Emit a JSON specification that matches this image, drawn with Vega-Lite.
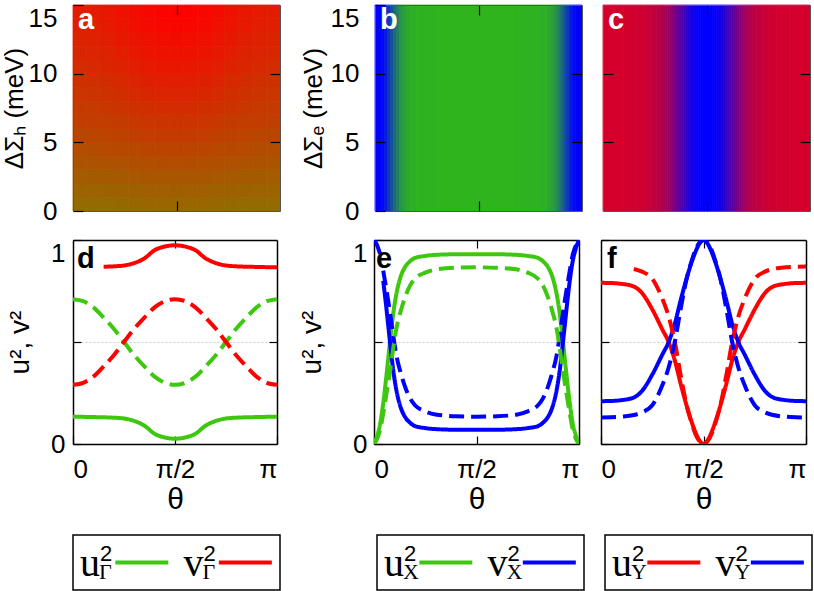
{
"$schema": "https://vega.github.io/schema/vega-lite/v6.json",
"padding": {"left": 1, "top": 4, "right": 0, "bottom": 0},
"background": "white",
"config": {
  "font": "Liberation Sans",
  "view": {"stroke": null},
  "axis": {"labelFont": "Liberation Sans", "labelFontSize": 26, "labelColor": "#000", "titleFont": "Liberation Sans", "titleFontSize": 28, "titleFontWeight": "normal", "titleColor": "#000", "tickColor": "#000", "tickWidth": 1.2, "domainColor": "#000", "domainWidth": 1.5, "grid": false},
  "title": {"font": "Liberation Sans", "fontSize": 29, "fontWeight": "bold", "anchor": "start", "frame": "group", "baseline": "alphabetic"}
},
"datasets": {
"ha": [
{"x":0,"x2":0.0667,"y":0,"y2":1,"v":0.58},{"x":0.0667,"x2":0.1333,"y":0,"y2":1,"v":0.582},{"x":0.1333,"x2":0.2,"y":0,"y2":1,"v":0.585},{"x":0.2,"x2":0.2667,"y":0,"y2":1,"v":0.589},{"x":0.2667,"x2":0.3333,"y":0,"y2":1,"v":0.593},{"x":0.3333,"x2":0.4,"y":0,"y2":1,"v":0.597},{"x":0.4,"x2":0.4667,"y":0,"y2":1,"v":0.599},{"x":0.4667,"x2":0.5333,"y":0,"y2":1,"v":0.6},{"x":0.5333,"x2":0.6,"y":0,"y2":1,"v":0.599},{"x":0.6,"x2":0.6667,"y":0,"y2":1,"v":0.597},{"x":0.6667,"x2":0.7333,"y":0,"y2":1,"v":0.593},{"x":0.7333,"x2":0.8,"y":0,"y2":1,"v":0.589},{"x":0.8,"x2":0.8667,"y":0,"y2":1,"v":0.585},{"x":0.8667,"x2":0.9333,"y":0,"y2":1,"v":0.582},{"x":0.9333,"x2":1,"y":0,"y2":1,"v":0.58},
{"x":0,"x2":0.0667,"y":1,"y2":2,"v":0.61},{"x":0.0667,"x2":0.1333,"y":1,"y2":2,"v":0.612},{"x":0.1333,"x2":0.2,"y":1,"y2":2,"v":0.615},{"x":0.2,"x2":0.2667,"y":1,"y2":2,"v":0.619},{"x":0.2667,"x2":0.3333,"y":1,"y2":2,"v":0.623},{"x":0.3333,"x2":0.4,"y":1,"y2":2,"v":0.627},{"x":0.4,"x2":0.4667,"y":1,"y2":2,"v":0.629},{"x":0.4667,"x2":0.5333,"y":1,"y2":2,"v":0.63},{"x":0.5333,"x2":0.6,"y":1,"y2":2,"v":0.629},{"x":0.6,"x2":0.6667,"y":1,"y2":2,"v":0.627},{"x":0.6667,"x2":0.7333,"y":1,"y2":2,"v":0.623},{"x":0.7333,"x2":0.8,"y":1,"y2":2,"v":0.619},{"x":0.8,"x2":0.8667,"y":1,"y2":2,"v":0.615},{"x":0.8667,"x2":0.9333,"y":1,"y2":2,"v":0.612},{"x":0.9333,"x2":1,"y":1,"y2":2,"v":0.61},
{"x":0,"x2":0.0667,"y":2,"y2":3,"v":0.64},{"x":0.0667,"x2":0.1333,"y":2,"y2":3,"v":0.642},{"x":0.1333,"x2":0.2,"y":2,"y2":3,"v":0.646},{"x":0.2,"x2":0.2667,"y":2,"y2":3,"v":0.651},{"x":0.2667,"x2":0.3333,"y":2,"y2":3,"v":0.656},{"x":0.3333,"x2":0.4,"y":2,"y2":3,"v":0.661},{"x":0.4,"x2":0.4667,"y":2,"y2":3,"v":0.664},{"x":0.4667,"x2":0.5333,"y":2,"y2":3,"v":0.665},{"x":0.5333,"x2":0.6,"y":2,"y2":3,"v":0.664},{"x":0.6,"x2":0.6667,"y":2,"y2":3,"v":0.661},{"x":0.6667,"x2":0.7333,"y":2,"y2":3,"v":0.656},{"x":0.7333,"x2":0.8,"y":2,"y2":3,"v":0.651},{"x":0.8,"x2":0.8667,"y":2,"y2":3,"v":0.646},{"x":0.8667,"x2":0.9333,"y":2,"y2":3,"v":0.642},{"x":0.9333,"x2":1,"y":2,"y2":3,"v":0.64},
{"x":0,"x2":0.0667,"y":3,"y2":4,"v":0.67},{"x":0.0667,"x2":0.1333,"y":3,"y2":4,"v":0.673},{"x":0.1333,"x2":0.2,"y":3,"y2":4,"v":0.678},{"x":0.2,"x2":0.2667,"y":3,"y2":4,"v":0.683},{"x":0.2667,"x2":0.3333,"y":3,"y2":4,"v":0.69},{"x":0.3333,"x2":0.4,"y":3,"y2":4,"v":0.695},{"x":0.4,"x2":0.4667,"y":3,"y2":4,"v":0.699},{"x":0.4667,"x2":0.5333,"y":3,"y2":4,"v":0.7},{"x":0.5333,"x2":0.6,"y":3,"y2":4,"v":0.699},{"x":0.6,"x2":0.6667,"y":3,"y2":4,"v":0.695},{"x":0.6667,"x2":0.7333,"y":3,"y2":4,"v":0.69},{"x":0.7333,"x2":0.8,"y":3,"y2":4,"v":0.683},{"x":0.8,"x2":0.8667,"y":3,"y2":4,"v":0.678},{"x":0.8667,"x2":0.9333,"y":3,"y2":4,"v":0.673},{"x":0.9333,"x2":1,"y":3,"y2":4,"v":0.67},
{"x":0,"x2":0.0667,"y":4,"y2":5,"v":0.7},{"x":0.0667,"x2":0.1333,"y":4,"y2":5,"v":0.703},{"x":0.1333,"x2":0.2,"y":4,"y2":5,"v":0.709},{"x":0.2,"x2":0.2667,"y":4,"y2":5,"v":0.716},{"x":0.2667,"x2":0.3333,"y":4,"y2":5,"v":0.723},{"x":0.3333,"x2":0.4,"y":4,"y2":5,"v":0.729},{"x":0.4,"x2":0.4667,"y":4,"y2":5,"v":0.733},{"x":0.4667,"x2":0.5333,"y":4,"y2":5,"v":0.735},{"x":0.5333,"x2":0.6,"y":4,"y2":5,"v":0.733},{"x":0.6,"x2":0.6667,"y":4,"y2":5,"v":0.729},{"x":0.6667,"x2":0.7333,"y":4,"y2":5,"v":0.723},{"x":0.7333,"x2":0.8,"y":4,"y2":5,"v":0.716},{"x":0.8,"x2":0.8667,"y":4,"y2":5,"v":0.709},{"x":0.8667,"x2":0.9333,"y":4,"y2":5,"v":0.703},{"x":0.9333,"x2":1,"y":4,"y2":5,"v":0.7},
{"x":0,"x2":0.0667,"y":5,"y2":6,"v":0.725},{"x":0.0667,"x2":0.1333,"y":5,"y2":6,"v":0.729},{"x":0.1333,"x2":0.2,"y":5,"y2":6,"v":0.736},{"x":0.2,"x2":0.2667,"y":5,"y2":6,"v":0.745},{"x":0.2667,"x2":0.3333,"y":5,"y2":6,"v":0.754},{"x":0.3333,"x2":0.4,"y":5,"y2":6,"v":0.763},{"x":0.4,"x2":0.4667,"y":5,"y2":6,"v":0.768},{"x":0.4667,"x2":0.5333,"y":5,"y2":6,"v":0.77},{"x":0.5333,"x2":0.6,"y":5,"y2":6,"v":0.768},{"x":0.6,"x2":0.6667,"y":5,"y2":6,"v":0.763},{"x":0.6667,"x2":0.7333,"y":5,"y2":6,"v":0.754},{"x":0.7333,"x2":0.8,"y":5,"y2":6,"v":0.745},{"x":0.8,"x2":0.8667,"y":5,"y2":6,"v":0.736},{"x":0.8667,"x2":0.9333,"y":5,"y2":6,"v":0.729},{"x":0.9333,"x2":1,"y":5,"y2":6,"v":0.725},
{"x":0,"x2":0.0667,"y":6,"y2":7,"v":0.751},{"x":0.0667,"x2":0.1333,"y":6,"y2":7,"v":0.755},{"x":0.1333,"x2":0.2,"y":6,"y2":7,"v":0.763},{"x":0.2,"x2":0.2667,"y":6,"y2":7,"v":0.772},{"x":0.2667,"x2":0.3333,"y":6,"y2":7,"v":0.783},{"x":0.3333,"x2":0.4,"y":6,"y2":7,"v":0.792},{"x":0.4,"x2":0.4667,"y":6,"y2":7,"v":0.798},{"x":0.4667,"x2":0.5333,"y":6,"y2":7,"v":0.8},{"x":0.5333,"x2":0.6,"y":6,"y2":7,"v":0.798},{"x":0.6,"x2":0.6667,"y":6,"y2":7,"v":0.792},{"x":0.6667,"x2":0.7333,"y":6,"y2":7,"v":0.783},{"x":0.7333,"x2":0.8,"y":6,"y2":7,"v":0.772},{"x":0.8,"x2":0.8667,"y":6,"y2":7,"v":0.763},{"x":0.8667,"x2":0.9333,"y":6,"y2":7,"v":0.755},{"x":0.9333,"x2":1,"y":6,"y2":7,"v":0.751},
{"x":0,"x2":0.0667,"y":7,"y2":8,"v":0.771},{"x":0.0667,"x2":0.1333,"y":7,"y2":8,"v":0.776},{"x":0.1333,"x2":0.2,"y":7,"y2":8,"v":0.785},{"x":0.2,"x2":0.2667,"y":7,"y2":8,"v":0.797},{"x":0.2667,"x2":0.3333,"y":7,"y2":8,"v":0.809},{"x":0.3333,"x2":0.4,"y":7,"y2":8,"v":0.82},{"x":0.4,"x2":0.4667,"y":7,"y2":8,"v":0.827},{"x":0.4667,"x2":0.5333,"y":7,"y2":8,"v":0.83},{"x":0.5333,"x2":0.6,"y":7,"y2":8,"v":0.827},{"x":0.6,"x2":0.6667,"y":7,"y2":8,"v":0.82},{"x":0.6667,"x2":0.7333,"y":7,"y2":8,"v":0.809},{"x":0.7333,"x2":0.8,"y":7,"y2":8,"v":0.797},{"x":0.8,"x2":0.8667,"y":7,"y2":8,"v":0.785},{"x":0.8667,"x2":0.9333,"y":7,"y2":8,"v":0.776},{"x":0.9333,"x2":1,"y":7,"y2":8,"v":0.771},
{"x":0,"x2":0.0667,"y":8,"y2":9,"v":0.791},{"x":0.0667,"x2":0.1333,"y":8,"y2":9,"v":0.797},{"x":0.1333,"x2":0.2,"y":8,"y2":9,"v":0.808},{"x":0.2,"x2":0.2667,"y":8,"y2":9,"v":0.821},{"x":0.2667,"x2":0.3333,"y":8,"y2":9,"v":0.836},{"x":0.3333,"x2":0.4,"y":8,"y2":9,"v":0.848},{"x":0.4,"x2":0.4667,"y":8,"y2":9,"v":0.857},{"x":0.4667,"x2":0.5333,"y":8,"y2":9,"v":0.86},{"x":0.5333,"x2":0.6,"y":8,"y2":9,"v":0.857},{"x":0.6,"x2":0.6667,"y":8,"y2":9,"v":0.848},{"x":0.6667,"x2":0.7333,"y":8,"y2":9,"v":0.836},{"x":0.7333,"x2":0.8,"y":8,"y2":9,"v":0.821},{"x":0.8,"x2":0.8667,"y":8,"y2":9,"v":0.808},{"x":0.8667,"x2":0.9333,"y":8,"y2":9,"v":0.797},{"x":0.9333,"x2":1,"y":8,"y2":9,"v":0.791},
{"x":0,"x2":0.0667,"y":9,"y2":10,"v":0.811},{"x":0.0667,"x2":0.1333,"y":9,"y2":10,"v":0.817},{"x":0.1333,"x2":0.2,"y":9,"y2":10,"v":0.829},{"x":0.2,"x2":0.2667,"y":9,"y2":10,"v":0.844},{"x":0.2667,"x2":0.3333,"y":9,"y2":10,"v":0.859},{"x":0.3333,"x2":0.4,"y":9,"y2":10,"v":0.873},{"x":0.4,"x2":0.4667,"y":9,"y2":10,"v":0.882},{"x":0.4667,"x2":0.5333,"y":9,"y2":10,"v":0.885},{"x":0.5333,"x2":0.6,"y":9,"y2":10,"v":0.882},{"x":0.6,"x2":0.6667,"y":9,"y2":10,"v":0.873},{"x":0.6667,"x2":0.7333,"y":9,"y2":10,"v":0.859},{"x":0.7333,"x2":0.8,"y":9,"y2":10,"v":0.844},{"x":0.8,"x2":0.8667,"y":9,"y2":10,"v":0.829},{"x":0.8667,"x2":0.9333,"y":9,"y2":10,"v":0.817},{"x":0.9333,"x2":1,"y":9,"y2":10,"v":0.811},
{"x":0,"x2":0.0667,"y":10,"y2":11,"v":0.831},{"x":0.0667,"x2":0.1333,"y":10,"y2":11,"v":0.838},{"x":0.1333,"x2":0.2,"y":10,"y2":11,"v":0.85},{"x":0.2,"x2":0.2667,"y":10,"y2":11,"v":0.866},{"x":0.2667,"x2":0.3333,"y":10,"y2":11,"v":0.882},{"x":0.3333,"x2":0.4,"y":10,"y2":11,"v":0.897},{"x":0.4,"x2":0.4667,"y":10,"y2":11,"v":0.907},{"x":0.4667,"x2":0.5333,"y":10,"y2":11,"v":0.91},{"x":0.5333,"x2":0.6,"y":10,"y2":11,"v":0.907},{"x":0.6,"x2":0.6667,"y":10,"y2":11,"v":0.897},{"x":0.6667,"x2":0.7333,"y":10,"y2":11,"v":0.882},{"x":0.7333,"x2":0.8,"y":10,"y2":11,"v":0.866},{"x":0.8,"x2":0.8667,"y":10,"y2":11,"v":0.85},{"x":0.8667,"x2":0.9333,"y":10,"y2":11,"v":0.838},{"x":0.9333,"x2":1,"y":10,"y2":11,"v":0.831},
{"x":0,"x2":0.0667,"y":11,"y2":12,"v":0.846},{"x":0.0667,"x2":0.1333,"y":11,"y2":12,"v":0.854},{"x":0.1333,"x2":0.2,"y":11,"y2":12,"v":0.868},{"x":0.2,"x2":0.2667,"y":11,"y2":12,"v":0.885},{"x":0.2667,"x2":0.3333,"y":11,"y2":12,"v":0.904},{"x":0.3333,"x2":0.4,"y":11,"y2":12,"v":0.92},{"x":0.4,"x2":0.4667,"y":11,"y2":12,"v":0.931},{"x":0.4667,"x2":0.5333,"y":11,"y2":12,"v":0.935},{"x":0.5333,"x2":0.6,"y":11,"y2":12,"v":0.931},{"x":0.6,"x2":0.6667,"y":11,"y2":12,"v":0.92},{"x":0.6667,"x2":0.7333,"y":11,"y2":12,"v":0.904},{"x":0.7333,"x2":0.8,"y":11,"y2":12,"v":0.885},{"x":0.8,"x2":0.8667,"y":11,"y2":12,"v":0.868},{"x":0.8667,"x2":0.9333,"y":11,"y2":12,"v":0.854},{"x":0.9333,"x2":1,"y":11,"y2":12,"v":0.846},
{"x":0,"x2":0.0667,"y":12,"y2":13,"v":0.861},{"x":0.0667,"x2":0.1333,"y":12,"y2":13,"v":0.869},{"x":0.1333,"x2":0.2,"y":12,"y2":13,"v":0.884},{"x":0.2,"x2":0.2667,"y":12,"y2":13,"v":0.903},{"x":0.2667,"x2":0.3333,"y":12,"y2":13,"v":0.922},{"x":0.3333,"x2":0.4,"y":12,"y2":13,"v":0.939},{"x":0.4,"x2":0.4667,"y":12,"y2":13,"v":0.951},{"x":0.4667,"x2":0.5333,"y":12,"y2":13,"v":0.955},{"x":0.5333,"x2":0.6,"y":12,"y2":13,"v":0.951},{"x":0.6,"x2":0.6667,"y":12,"y2":13,"v":0.939},{"x":0.6667,"x2":0.7333,"y":12,"y2":13,"v":0.922},{"x":0.7333,"x2":0.8,"y":12,"y2":13,"v":0.903},{"x":0.8,"x2":0.8667,"y":12,"y2":13,"v":0.884},{"x":0.8667,"x2":0.9333,"y":12,"y2":13,"v":0.869},{"x":0.9333,"x2":1,"y":12,"y2":13,"v":0.861},
{"x":0,"x2":0.0667,"y":13,"y2":14,"v":0.876},{"x":0.0667,"x2":0.1333,"y":13,"y2":14,"v":0.885},{"x":0.1333,"x2":0.2,"y":13,"y2":14,"v":0.9},{"x":0.2,"x2":0.2667,"y":13,"y2":14,"v":0.92},{"x":0.2667,"x2":0.3333,"y":13,"y2":14,"v":0.941},{"x":0.3333,"x2":0.4,"y":13,"y2":14,"v":0.959},{"x":0.4,"x2":0.4667,"y":13,"y2":14,"v":0.971},{"x":0.4667,"x2":0.5333,"y":13,"y2":14,"v":0.975},{"x":0.5333,"x2":0.6,"y":13,"y2":14,"v":0.971},{"x":0.6,"x2":0.6667,"y":13,"y2":14,"v":0.959},{"x":0.6667,"x2":0.7333,"y":13,"y2":14,"v":0.941},{"x":0.7333,"x2":0.8,"y":13,"y2":14,"v":0.92},{"x":0.8,"x2":0.8667,"y":13,"y2":14,"v":0.9},{"x":0.8667,"x2":0.9333,"y":13,"y2":14,"v":0.885},{"x":0.9333,"x2":1,"y":13,"y2":14,"v":0.876},
{"x":0,"x2":0.0667,"y":14,"y2":15,"v":0.891},{"x":0.0667,"x2":0.1333,"y":14,"y2":15,"v":0.9},{"x":0.1333,"x2":0.2,"y":14,"y2":15,"v":0.915},{"x":0.2,"x2":0.2667,"y":14,"y2":15,"v":0.935},{"x":0.2667,"x2":0.3333,"y":14,"y2":15,"v":0.956},{"x":0.3333,"x2":0.4,"y":14,"y2":15,"v":0.974},{"x":0.4,"x2":0.4667,"y":14,"y2":15,"v":0.986},{"x":0.4667,"x2":0.5333,"y":14,"y2":15,"v":0.99},{"x":0.5333,"x2":0.6,"y":14,"y2":15,"v":0.986},{"x":0.6,"x2":0.6667,"y":14,"y2":15,"v":0.974},{"x":0.6667,"x2":0.7333,"y":14,"y2":15,"v":0.956},{"x":0.7333,"x2":0.8,"y":14,"y2":15,"v":0.935},{"x":0.8,"x2":0.8667,"y":14,"y2":15,"v":0.915},{"x":0.8667,"x2":0.9333,"y":14,"y2":15,"v":0.9},{"x":0.9333,"x2":1,"y":14,"y2":15,"v":0.891}
],
"hb": [
{"x":0,"x2":0.03,"y":0,"y2":15,"v":0},{"x":0.03,"x2":0.045,"y":0,"y2":15,"v":0.05},{"x":0.045,"x2":0.06,"y":0,"y2":15,"v":0.15},{"x":0.06,"x2":0.075,"y":0,"y2":15,"v":0.3},{"x":0.075,"x2":0.09,"y":0,"y2":15,"v":0.45},{"x":0.09,"x2":0.105,"y":0,"y2":15,"v":0.6},{"x":0.105,"x2":0.12,"y":0,"y2":15,"v":0.72},{"x":0.12,"x2":0.135,"y":0,"y2":15,"v":0.82},{"x":0.135,"x2":0.15,"y":0,"y2":15,"v":0.89},{"x":0.15,"x2":0.17,"y":0,"y2":15,"v":0.94},{"x":0.17,"x2":0.2,"y":0,"y2":15,"v":0.97},{"x":0.2,"x2":0.3,"y":0,"y2":15,"v":0.99},{"x":0.3,"x2":0.7,"y":0,"y2":15,"v":1},{"x":0.7,"x2":0.8,"y":0,"y2":15,"v":0.99},{"x":0.8,"x2":0.83,"y":0,"y2":15,"v":0.97},{"x":0.83,"x2":0.85,"y":0,"y2":15,"v":0.94},{"x":0.85,"x2":0.865,"y":0,"y2":15,"v":0.89},{"x":0.865,"x2":0.88,"y":0,"y2":15,"v":0.82},{"x":0.88,"x2":0.895,"y":0,"y2":15,"v":0.72},{"x":0.895,"x2":0.91,"y":0,"y2":15,"v":0.6},{"x":0.91,"x2":0.925,"y":0,"y2":15,"v":0.45},{"x":0.925,"x2":0.94,"y":0,"y2":15,"v":0.3},{"x":0.94,"x2":0.955,"y":0,"y2":15,"v":0.15},{"x":0.955,"x2":0.97,"y":0,"y2":15,"v":0.05},{"x":0.97,"x2":1,"y":0,"y2":15,"v":0}
],
"hc": [
{"x":0,"x2":0.1,"y":0,"y2":15,"v":0.83},{"x":0.1,"x2":0.16,"y":0,"y2":15,"v":0.825},{"x":0.16,"x2":0.2,"y":0,"y2":15,"v":0.81},{"x":0.2,"x2":0.23,"y":0,"y2":15,"v":0.79},{"x":0.23,"x2":0.26,"y":0,"y2":15,"v":0.76},{"x":0.26,"x2":0.28,"y":0,"y2":15,"v":0.73},{"x":0.28,"x2":0.29,"y":0,"y2":15,"v":0.705},{"x":0.29,"x2":0.3,"y":0,"y2":15,"v":0.68},{"x":0.3,"x2":0.31,"y":0,"y2":15,"v":0.65},{"x":0.31,"x2":0.32,"y":0,"y2":15,"v":0.615},{"x":0.32,"x2":0.33,"y":0,"y2":15,"v":0.575},{"x":0.33,"x2":0.34,"y":0,"y2":15,"v":0.535},{"x":0.34,"x2":0.35,"y":0,"y2":15,"v":0.49},{"x":0.35,"x2":0.36,"y":0,"y2":15,"v":0.445},{"x":0.36,"x2":0.37,"y":0,"y2":15,"v":0.4},{"x":0.37,"x2":0.38,"y":0,"y2":15,"v":0.35},{"x":0.38,"x2":0.39,"y":0,"y2":15,"v":0.3},{"x":0.39,"x2":0.4,"y":0,"y2":15,"v":0.25},{"x":0.4,"x2":0.41,"y":0,"y2":15,"v":0.2},{"x":0.41,"x2":0.42,"y":0,"y2":15,"v":0.15},{"x":0.42,"x2":0.43,"y":0,"y2":15,"v":0.11},{"x":0.43,"x2":0.44,"y":0,"y2":15,"v":0.075},{"x":0.44,"x2":0.45,"y":0,"y2":15,"v":0.045},{"x":0.45,"x2":0.46,"y":0,"y2":15,"v":0.025},{"x":0.46,"x2":0.47,"y":0,"y2":15,"v":0.01},{"x":0.47,"x2":0.53,"y":0,"y2":15,"v":0},{"x":0.53,"x2":0.54,"y":0,"y2":15,"v":0.01},{"x":0.54,"x2":0.55,"y":0,"y2":15,"v":0.025},{"x":0.55,"x2":0.56,"y":0,"y2":15,"v":0.045},{"x":0.56,"x2":0.57,"y":0,"y2":15,"v":0.075},{"x":0.57,"x2":0.58,"y":0,"y2":15,"v":0.11},{"x":0.58,"x2":0.59,"y":0,"y2":15,"v":0.15},{"x":0.59,"x2":0.6,"y":0,"y2":15,"v":0.2},{"x":0.6,"x2":0.61,"y":0,"y2":15,"v":0.25},{"x":0.61,"x2":0.62,"y":0,"y2":15,"v":0.3},{"x":0.62,"x2":0.63,"y":0,"y2":15,"v":0.35},{"x":0.63,"x2":0.64,"y":0,"y2":15,"v":0.4},{"x":0.64,"x2":0.65,"y":0,"y2":15,"v":0.445},{"x":0.65,"x2":0.66,"y":0,"y2":15,"v":0.49},{"x":0.66,"x2":0.67,"y":0,"y2":15,"v":0.535},{"x":0.67,"x2":0.68,"y":0,"y2":15,"v":0.575},{"x":0.68,"x2":0.69,"y":0,"y2":15,"v":0.615},{"x":0.69,"x2":0.7,"y":0,"y2":15,"v":0.65},{"x":0.7,"x2":0.71,"y":0,"y2":15,"v":0.68},{"x":0.71,"x2":0.72,"y":0,"y2":15,"v":0.705},{"x":0.72,"x2":0.74,"y":0,"y2":15,"v":0.73},{"x":0.74,"x2":0.77,"y":0,"y2":15,"v":0.76},{"x":0.77,"x2":0.8,"y":0,"y2":15,"v":0.79},{"x":0.8,"x2":0.84,"y":0,"y2":15,"v":0.81},{"x":0.84,"x2":0.9,"y":0,"y2":15,"v":0.825},{"x":0.9,"x2":1,"y":0,"y2":15,"v":0.83}
],
"pd": [
{"t":0,"v":0.133,"s":"u","d":"solid"},{"t":0.05,"v":0.133,"s":"u","d":"solid"},{"t":0.1,"v":0.132,"s":"u","d":"solid"},{"t":0.15,"v":0.131,"s":"u","d":"solid"},{"t":0.2,"v":0.129,"s":"u","d":"solid"},{"t":0.25,"v":0.125,"s":"u","d":"solid"},{"t":0.3,"v":0.113,"s":"u","d":"solid"},{"t":0.35,"v":0.09,"s":"u","d":"solid"},{"t":0.4,"v":0.05,"s":"u","d":"solid"},{"t":0.45,"v":0.032,"s":"u","d":"solid"},{"t":0.5,"v":0.026,"s":"u","d":"solid"},{"t":0.55,"v":0.032,"s":"u","d":"solid"},{"t":0.6,"v":0.05,"s":"u","d":"solid"},{"t":0.65,"v":0.09,"s":"u","d":"solid"},{"t":0.7,"v":0.113,"s":"u","d":"solid"},{"t":0.75,"v":0.125,"s":"u","d":"solid"},{"t":0.8,"v":0.129,"s":"u","d":"solid"},{"t":0.85,"v":0.131,"s":"u","d":"solid"},{"t":0.9,"v":0.132,"s":"u","d":"solid"},{"t":0.95,"v":0.133,"s":"u","d":"solid"},{"t":1,"v":0.133,"s":"u","d":"solid"},
{"t":0.15,"v":0.869,"s":"v","d":"solid"},{"t":0.2,"v":0.871,"s":"v","d":"solid"},{"t":0.25,"v":0.875,"s":"v","d":"solid"},{"t":0.3,"v":0.887,"s":"v","d":"solid"},{"t":0.35,"v":0.91,"s":"v","d":"solid"},{"t":0.4,"v":0.95,"s":"v","d":"solid"},{"t":0.45,"v":0.968,"s":"v","d":"solid"},{"t":0.5,"v":0.974,"s":"v","d":"solid"},{"t":0.55,"v":0.968,"s":"v","d":"solid"},{"t":0.6,"v":0.95,"s":"v","d":"solid"},{"t":0.65,"v":0.91,"s":"v","d":"solid"},{"t":0.7,"v":0.887,"s":"v","d":"solid"},{"t":0.75,"v":0.875,"s":"v","d":"solid"},{"t":0.8,"v":0.871,"s":"v","d":"solid"},{"t":0.85,"v":0.869,"s":"v","d":"solid"},{"t":0.9,"v":0.868,"s":"v","d":"solid"},{"t":0.95,"v":0.867,"s":"v","d":"solid"},{"t":1,"v":0.867,"s":"v","d":"solid"},
{"t":0,"v":0.71,"s":"u","d":"dashed"},{"t":0.05,"v":0.7,"s":"u","d":"dashed"},{"t":0.1,"v":0.67,"s":"u","d":"dashed"},{"t":0.15,"v":0.62,"s":"u","d":"dashed"},{"t":0.2,"v":0.565,"s":"u","d":"dashed"},{"t":0.25,"v":0.5,"s":"u","d":"dashed"},{"t":0.3,"v":0.435,"s":"u","d":"dashed"},{"t":0.35,"v":0.38,"s":"u","d":"dashed"},{"t":0.4,"v":0.33,"s":"u","d":"dashed"},{"t":0.45,"v":0.3,"s":"u","d":"dashed"},{"t":0.5,"v":0.29,"s":"u","d":"dashed"},{"t":0.55,"v":0.3,"s":"u","d":"dashed"},{"t":0.6,"v":0.33,"s":"u","d":"dashed"},{"t":0.65,"v":0.38,"s":"u","d":"dashed"},{"t":0.7,"v":0.435,"s":"u","d":"dashed"},{"t":0.75,"v":0.5,"s":"u","d":"dashed"},{"t":0.8,"v":0.565,"s":"u","d":"dashed"},{"t":0.85,"v":0.62,"s":"u","d":"dashed"},{"t":0.9,"v":0.67,"s":"u","d":"dashed"},{"t":0.95,"v":0.7,"s":"u","d":"dashed"},{"t":1,"v":0.71,"s":"u","d":"dashed"},
{"t":0,"v":0.29,"s":"v","d":"dashed"},{"t":0.05,"v":0.3,"s":"v","d":"dashed"},{"t":0.1,"v":0.33,"s":"v","d":"dashed"},{"t":0.15,"v":0.38,"s":"v","d":"dashed"},{"t":0.2,"v":0.435,"s":"v","d":"dashed"},{"t":0.25,"v":0.5,"s":"v","d":"dashed"},{"t":0.3,"v":0.565,"s":"v","d":"dashed"},{"t":0.35,"v":0.62,"s":"v","d":"dashed"},{"t":0.4,"v":0.67,"s":"v","d":"dashed"},{"t":0.45,"v":0.7,"s":"v","d":"dashed"},{"t":0.5,"v":0.71,"s":"v","d":"dashed"},{"t":0.55,"v":0.7,"s":"v","d":"dashed"},{"t":0.6,"v":0.67,"s":"v","d":"dashed"},{"t":0.65,"v":0.62,"s":"v","d":"dashed"},{"t":0.7,"v":0.565,"s":"v","d":"dashed"},{"t":0.75,"v":0.5,"s":"v","d":"dashed"},{"t":0.8,"v":0.435,"s":"v","d":"dashed"},{"t":0.85,"v":0.38,"s":"v","d":"dashed"},{"t":0.9,"v":0.33,"s":"v","d":"dashed"},{"t":0.95,"v":0.3,"s":"v","d":"dashed"},{"t":1,"v":0.29,"s":"v","d":"dashed"}
],
"pe": [
{"t":0,"v":0,"s":"u","d":"solid"},{"t":0.015,"v":0.04,"s":"u","d":"solid"},{"t":0.03,"v":0.1,"s":"u","d":"solid"},{"t":0.045,"v":0.2,"s":"u","d":"solid"},{"t":0.06,"v":0.33,"s":"u","d":"solid"},{"t":0.078,"v":0.5,"s":"u","d":"solid"},{"t":0.094,"v":0.64,"s":"u","d":"solid"},{"t":0.11,"v":0.74,"s":"u","d":"solid"},{"t":0.13,"v":0.82,"s":"u","d":"solid"},{"t":0.15,"v":0.865,"s":"u","d":"solid"},{"t":0.175,"v":0.895,"s":"u","d":"solid"},{"t":0.2,"v":0.912,"s":"u","d":"solid"},{"t":0.25,"v":0.922,"s":"u","d":"solid"},{"t":0.3,"v":0.927,"s":"u","d":"solid"},{"t":0.4,"v":0.93,"s":"u","d":"solid"},{"t":0.5,"v":0.93,"s":"u","d":"solid"},{"t":0.6,"v":0.93,"s":"u","d":"solid"},{"t":0.7,"v":0.927,"s":"u","d":"solid"},{"t":0.75,"v":0.922,"s":"u","d":"solid"},{"t":0.8,"v":0.912,"s":"u","d":"solid"},{"t":0.825,"v":0.895,"s":"u","d":"solid"},{"t":0.85,"v":0.865,"s":"u","d":"solid"},{"t":0.87,"v":0.82,"s":"u","d":"solid"},{"t":0.89,"v":0.74,"s":"u","d":"solid"},{"t":0.906,"v":0.64,"s":"u","d":"solid"},{"t":0.922,"v":0.5,"s":"u","d":"solid"},{"t":0.94,"v":0.33,"s":"u","d":"solid"},{"t":0.955,"v":0.2,"s":"u","d":"solid"},{"t":0.97,"v":0.1,"s":"u","d":"solid"},{"t":0.985,"v":0.04,"s":"u","d":"solid"},{"t":1,"v":0,"s":"u","d":"solid"},
{"t":0.045,"v":0.8,"s":"v","d":"solid"},{"t":0.06,"v":0.67,"s":"v","d":"solid"},{"t":0.078,"v":0.5,"s":"v","d":"solid"},{"t":0.094,"v":0.36,"s":"v","d":"solid"},{"t":0.11,"v":0.26,"s":"v","d":"solid"},{"t":0.13,"v":0.18,"s":"v","d":"solid"},{"t":0.15,"v":0.135,"s":"v","d":"solid"},{"t":0.175,"v":0.105,"s":"v","d":"solid"},{"t":0.2,"v":0.088,"s":"v","d":"solid"},{"t":0.25,"v":0.078,"s":"v","d":"solid"},{"t":0.3,"v":0.073,"s":"v","d":"solid"},{"t":0.4,"v":0.07,"s":"v","d":"solid"},{"t":0.5,"v":0.07,"s":"v","d":"solid"},{"t":0.6,"v":0.07,"s":"v","d":"solid"},{"t":0.7,"v":0.073,"s":"v","d":"solid"},{"t":0.75,"v":0.078,"s":"v","d":"solid"},{"t":0.8,"v":0.088,"s":"v","d":"solid"},{"t":0.825,"v":0.105,"s":"v","d":"solid"},{"t":0.85,"v":0.135,"s":"v","d":"solid"},{"t":0.87,"v":0.18,"s":"v","d":"solid"},{"t":0.89,"v":0.26,"s":"v","d":"solid"},{"t":0.906,"v":0.36,"s":"v","d":"solid"},{"t":0.922,"v":0.5,"s":"v","d":"solid"},{"t":0.94,"v":0.67,"s":"v","d":"solid"},{"t":0.955,"v":0.8,"s":"v","d":"solid"},{"t":0.97,"v":0.9,"s":"v","d":"solid"},{"t":0.985,"v":0.96,"s":"v","d":"solid"},{"t":1,"v":1,"s":"v","d":"solid"},
{"t":0,"v":1,"s":"v","d":"dashed","g":1},{"t":0.015,"v":0.975,"s":"v","d":"dashed","g":1},{"t":0.03,"v":0.93,"s":"v","d":"dashed","g":1},
{"t":0.045,"v":0.85,"s":"v","d":"dashed","g":2},{"t":0.06,"v":0.76,"s":"v","d":"dashed","g":2},{"t":0.078,"v":0.645,"s":"v","d":"dashed","g":2},{"t":0.094,"v":0.53,"s":"v","d":"dashed","g":2},{"t":0.11,"v":0.43,"s":"v","d":"dashed","g":2},{"t":0.13,"v":0.35,"s":"v","d":"dashed","g":2},{"t":0.15,"v":0.285,"s":"v","d":"dashed","g":2},{"t":0.175,"v":0.225,"s":"v","d":"dashed","g":2},{"t":0.2,"v":0.19,"s":"v","d":"dashed","g":2},{"t":0.25,"v":0.16,"s":"v","d":"dashed","g":2},{"t":0.3,"v":0.145,"s":"v","d":"dashed","g":2},{"t":0.4,"v":0.136,"s":"v","d":"dashed","g":2},{"t":0.5,"v":0.134,"s":"v","d":"dashed","g":2},{"t":0.6,"v":0.136,"s":"v","d":"dashed","g":2},{"t":0.7,"v":0.145,"s":"v","d":"dashed","g":2},{"t":0.75,"v":0.16,"s":"v","d":"dashed","g":2},{"t":0.8,"v":0.19,"s":"v","d":"dashed","g":2},{"t":0.825,"v":0.225,"s":"v","d":"dashed","g":2},{"t":0.85,"v":0.285,"s":"v","d":"dashed","g":2},{"t":0.87,"v":0.35,"s":"v","d":"dashed","g":2},{"t":0.89,"v":0.43,"s":"v","d":"dashed","g":2},{"t":0.906,"v":0.53,"s":"v","d":"dashed","g":2},{"t":0.922,"v":0.645,"s":"v","d":"dashed","g":2},{"t":0.94,"v":0.76,"s":"v","d":"dashed","g":2},{"t":0.955,"v":0.85,"s":"v","d":"dashed","g":2},{"t":0.97,"v":0.93,"s":"v","d":"dashed","g":2},{"t":0.985,"v":0.975,"s":"v","d":"dashed","g":2},{"t":1,"v":1,"s":"v","d":"dashed","g":2},
{"t":0,"v":0,"s":"u","d":"dashed"},{"t":0.015,"v":0.025,"s":"u","d":"dashed"},{"t":0.03,"v":0.07,"s":"u","d":"dashed"},{"t":0.045,"v":0.15,"s":"u","d":"dashed"},{"t":0.06,"v":0.24,"s":"u","d":"dashed"},{"t":0.078,"v":0.355,"s":"u","d":"dashed"},{"t":0.094,"v":0.47,"s":"u","d":"dashed"},{"t":0.11,"v":0.57,"s":"u","d":"dashed"},{"t":0.13,"v":0.65,"s":"u","d":"dashed"},{"t":0.15,"v":0.715,"s":"u","d":"dashed"},{"t":0.175,"v":0.775,"s":"u","d":"dashed"},{"t":0.2,"v":0.81,"s":"u","d":"dashed"},{"t":0.25,"v":0.84,"s":"u","d":"dashed"},{"t":0.3,"v":0.855,"s":"u","d":"dashed"},{"t":0.4,"v":0.864,"s":"u","d":"dashed"},{"t":0.5,"v":0.866,"s":"u","d":"dashed"},{"t":0.6,"v":0.864,"s":"u","d":"dashed"},{"t":0.7,"v":0.855,"s":"u","d":"dashed"},{"t":0.75,"v":0.84,"s":"u","d":"dashed"},{"t":0.8,"v":0.81,"s":"u","d":"dashed"},{"t":0.825,"v":0.775,"s":"u","d":"dashed"},{"t":0.85,"v":0.715,"s":"u","d":"dashed"},{"t":0.87,"v":0.65,"s":"u","d":"dashed"},{"t":0.89,"v":0.57,"s":"u","d":"dashed"},{"t":0.906,"v":0.47,"s":"u","d":"dashed"},{"t":0.922,"v":0.355,"s":"u","d":"dashed"},{"t":0.94,"v":0.24,"s":"u","d":"dashed"},{"t":0.955,"v":0.15,"s":"u","d":"dashed"},{"t":0.97,"v":0.07,"s":"u","d":"dashed"},{"t":0.985,"v":0.025,"s":"u","d":"dashed"},{"t":1,"v":0,"s":"u","d":"dashed"}
],
"pf": [
{"t":0,"v":0.79,"s":"u","d":"solid"},{"t":0.05,"v":0.789,"s":"u","d":"solid"},{"t":0.1,"v":0.785,"s":"u","d":"solid"},{"t":0.16,"v":0.772,"s":"u","d":"solid"},{"t":0.2,"v":0.74,"s":"u","d":"solid"},{"t":0.25,"v":0.66,"s":"u","d":"solid"},{"t":0.3,"v":0.56,"s":"u","d":"solid"},{"t":0.33,"v":0.5,"s":"u","d":"solid"},{"t":0.36,"v":0.41,"s":"u","d":"solid"},{"t":0.39,"v":0.29,"s":"u","d":"solid"},{"t":0.42,"v":0.18,"s":"u","d":"solid"},{"t":0.44,"v":0.115,"s":"u","d":"solid"},{"t":0.46,"v":0.06,"s":"u","d":"solid"},{"t":0.48,"v":0.018,"s":"u","d":"solid"},{"t":0.5,"v":0,"s":"u","d":"solid"},{"t":0.52,"v":0.018,"s":"u","d":"solid"},{"t":0.54,"v":0.06,"s":"u","d":"solid"},{"t":0.56,"v":0.115,"s":"u","d":"solid"},{"t":0.58,"v":0.18,"s":"u","d":"solid"},{"t":0.61,"v":0.29,"s":"u","d":"solid"},{"t":0.64,"v":0.41,"s":"u","d":"solid"},{"t":0.67,"v":0.5,"s":"u","d":"solid"},{"t":0.7,"v":0.56,"s":"u","d":"solid"},{"t":0.75,"v":0.66,"s":"u","d":"solid"},{"t":0.8,"v":0.74,"s":"u","d":"solid"},{"t":0.84,"v":0.772,"s":"u","d":"solid"},{"t":0.9,"v":0.785,"s":"u","d":"solid"},{"t":0.95,"v":0.789,"s":"u","d":"solid"},{"t":1,"v":0.79,"s":"u","d":"solid"},
{"t":0,"v":0.21,"s":"v","d":"solid"},{"t":0.05,"v":0.211,"s":"v","d":"solid"},{"t":0.1,"v":0.215,"s":"v","d":"solid"},{"t":0.16,"v":0.228,"s":"v","d":"solid"},{"t":0.2,"v":0.26,"s":"v","d":"solid"},{"t":0.25,"v":0.34,"s":"v","d":"solid"},{"t":0.3,"v":0.44,"s":"v","d":"solid"},{"t":0.33,"v":0.5,"s":"v","d":"solid"},{"t":0.36,"v":0.59,"s":"v","d":"solid"},{"t":0.39,"v":0.71,"s":"v","d":"solid"},{"t":0.42,"v":0.82,"s":"v","d":"solid"},{"t":0.44,"v":0.885,"s":"v","d":"solid"},{"t":0.46,"v":0.94,"s":"v","d":"solid"},{"t":0.48,"v":0.982,"s":"v","d":"solid"},{"t":0.5,"v":1,"s":"v","d":"solid"},{"t":0.52,"v":0.982,"s":"v","d":"solid"},{"t":0.54,"v":0.94,"s":"v","d":"solid"},{"t":0.56,"v":0.885,"s":"v","d":"solid"},{"t":0.58,"v":0.82,"s":"v","d":"solid"},{"t":0.61,"v":0.71,"s":"v","d":"solid"},{"t":0.64,"v":0.59,"s":"v","d":"solid"},{"t":0.67,"v":0.5,"s":"v","d":"solid"},{"t":0.7,"v":0.44,"s":"v","d":"solid"},{"t":0.75,"v":0.34,"s":"v","d":"solid"},{"t":0.8,"v":0.26,"s":"v","d":"solid"},{"t":0.84,"v":0.228,"s":"v","d":"solid"},{"t":0.9,"v":0.215,"s":"v","d":"solid"},{"t":0.95,"v":0.211,"s":"v","d":"solid"},{"t":1,"v":0.21,"s":"v","d":"solid"},
{"t":0.16,"v":0.858,"s":"u","d":"dashed"},{"t":0.2,"v":0.845,"s":"u","d":"dashed"},{"t":0.25,"v":0.81,"s":"u","d":"dashed"},{"t":0.3,"v":0.71,"s":"u","d":"dashed"},{"t":0.33,"v":0.625,"s":"u","d":"dashed"},{"t":0.36,"v":0.5,"s":"u","d":"dashed"},{"t":0.39,"v":0.33,"s":"u","d":"dashed"},{"t":0.42,"v":0.18,"s":"u","d":"dashed"},{"t":0.44,"v":0.11,"s":"u","d":"dashed"},{"t":0.46,"v":0.05,"s":"u","d":"dashed"},{"t":0.48,"v":0.013,"s":"u","d":"dashed"},{"t":0.5,"v":0,"s":"u","d":"dashed"},{"t":0.52,"v":0.013,"s":"u","d":"dashed"},{"t":0.54,"v":0.05,"s":"u","d":"dashed"},{"t":0.56,"v":0.11,"s":"u","d":"dashed"},{"t":0.58,"v":0.18,"s":"u","d":"dashed"},{"t":0.61,"v":0.33,"s":"u","d":"dashed"},{"t":0.64,"v":0.5,"s":"u","d":"dashed"},{"t":0.67,"v":0.625,"s":"u","d":"dashed"},{"t":0.7,"v":0.71,"s":"u","d":"dashed"},{"t":0.75,"v":0.81,"s":"u","d":"dashed"},{"t":0.8,"v":0.845,"s":"u","d":"dashed"},{"t":0.84,"v":0.858,"s":"u","d":"dashed"},{"t":0.9,"v":0.866,"s":"u","d":"dashed"},{"t":0.95,"v":0.869,"s":"u","d":"dashed"},{"t":1,"v":0.87,"s":"u","d":"dashed"},
{"t":0,"v":0.13,"s":"v","d":"dashed"},{"t":0.05,"v":0.131,"s":"v","d":"dashed"},{"t":0.1,"v":0.134,"s":"v","d":"dashed"},{"t":0.16,"v":0.142,"s":"v","d":"dashed"},{"t":0.2,"v":0.155,"s":"v","d":"dashed"},{"t":0.25,"v":0.19,"s":"v","d":"dashed"},{"t":0.3,"v":0.29,"s":"v","d":"dashed"},{"t":0.33,"v":0.375,"s":"v","d":"dashed"},{"t":0.36,"v":0.5,"s":"v","d":"dashed"},{"t":0.39,"v":0.67,"s":"v","d":"dashed"},{"t":0.42,"v":0.82,"s":"v","d":"dashed"},{"t":0.44,"v":0.89,"s":"v","d":"dashed"},{"t":0.46,"v":0.95,"s":"v","d":"dashed"},{"t":0.48,"v":0.987,"s":"v","d":"dashed"},{"t":0.5,"v":1,"s":"v","d":"dashed"},{"t":0.52,"v":0.987,"s":"v","d":"dashed"},{"t":0.54,"v":0.95,"s":"v","d":"dashed"},{"t":0.56,"v":0.89,"s":"v","d":"dashed"},{"t":0.58,"v":0.82,"s":"v","d":"dashed"},{"t":0.61,"v":0.67,"s":"v","d":"dashed"},{"t":0.64,"v":0.5,"s":"v","d":"dashed"},{"t":0.67,"v":0.375,"s":"v","d":"dashed"},{"t":0.7,"v":0.29,"s":"v","d":"dashed"},{"t":0.75,"v":0.19,"s":"v","d":"dashed"},{"t":0.8,"v":0.155,"s":"v","d":"dashed"},{"t":0.84,"v":0.142,"s":"v","d":"dashed"},{"t":0.9,"v":0.134,"s":"v","d":"dashed"},{"t":0.95,"v":0.131,"s":"v","d":"dashed"},{"t":1,"v":0.13,"s":"v","d":"dashed"}
],
"gd": [{"k":"u","sub":"Γ"},{"k":"v","sub":"Γ"}],
"ge": [{"k":"u","sub":"X"},{"k":"v","sub":"X"}],
"gf": [{"k":"u","sub":"Y"},{"k":"v","sub":"Y"}]
},
"spacing": 20,
"resolve": {"scale": {"fill": "independent", "stroke": "independent", "color": "independent", "strokeDash": "independent"}},
"vconcat": [
{"spacing": 15, "resolve": {"scale": {"fill": "independent", "stroke": "independent", "color": "independent", "strokeDash": "independent"}}, "vconcat": [
{"spacing": 19, "resolve": {"scale": {"fill": "independent", "stroke": "independent", "color": "independent", "strokeDash": "independent"}}, "hconcat": [
 {"width": 207, "height": 206, "data": {"name": "ha"},
  "title": {"text": "a", "offset": -31, "dx": 5, "color": "white"},
  "layer": [
   {"mark": {"type": "rect", "strokeWidth": 0.8},
    "encoding": {
     "x": {"field": "x", "type": "quantitative", "scale": {"domain": [0, 1], "nice": false, "zero": false}, "axis": {"orient": "bottom", "values": [0.5], "labels": false, "title": null, "tickSize": -10, "domainColor": "#555", "domainWidth": 1, "zindex": 1}},
     "x2": {"field": "x2"},
     "y": {"field": "y", "type": "quantitative", "scale": {"domain": [0, 15], "nice": false, "zero": false}, "axis": {"orient": "left", "values": [0, 5, 10, 15], "tickSize": -10, "labelPadding": 26, "title": "ΔΣₕ (meV)", "titleFontSize": 26, "titlePadding": 1, "labelBaseline": {"condition": {"test": "datum.value == 15", "value": "top"}, "value": "middle"}, "domainColor": "#555", "domainWidth": 1, "zindex": 1}},
     "y2": {"field": "y2"},
     "fill": {"field": "v", "type": "quantitative", "scale": {"domain": [0, 1], "range": ["#00ff00", "#ff0000"], "interpolate": "rgb"}, "legend": null},
     "stroke": {"field": "v", "type": "quantitative", "scale": {"domain": [0, 1], "range": ["#00ff00", "#ff0000"], "interpolate": "rgb"}, "legend": null}
    }},
   {"mark": {"type": "point", "opacity": 0, "size": 1, "strokeWidth": 0},
    "encoding": {
     "x": {"field": "x", "type": "quantitative", "scale": {"domain": [0, 1], "nice": false, "zero": false}, "axis": {"orient": "top", "values": [0.5], "labels": false, "title": null, "tickSize": -10, "domainColor": "#555", "domainWidth": 1, "zindex": 1}},
     "y": {"field": "y", "type": "quantitative", "scale": {"domain": [0, 15], "nice": false, "zero": false}, "axis": {"orient": "right", "values": [5, 10], "labels": false, "title": null, "tickSize": -10, "domainColor": "#555", "domainWidth": 1, "zindex": 1}}
    }}
  ],
  "resolve": {"axis": {"x": "independent", "y": "independent"}}
 },
 {"width": 207, "height": 206, "data": {"name": "hb"},
  "title": {"text": "b", "offset": -31, "dx": 5, "color": "white"},
  "layer": [
   {"mark": {"type": "rect", "strokeWidth": 0.8},
    "encoding": {
     "x": {"field": "x", "type": "quantitative", "scale": {"domain": [0, 1], "nice": false, "zero": false}, "axis": {"orient": "bottom", "values": [0.5], "labels": false, "title": null, "tickSize": -10, "domainColor": "#555", "domainWidth": 1, "zindex": 1}},
     "x2": {"field": "x2"},
     "y": {"field": "y", "type": "quantitative", "scale": {"domain": [0, 15], "nice": false, "zero": false}, "axis": {"orient": "left", "values": [0, 5, 10, 15], "tickSize": -10, "labelPadding": 26, "title": "ΔΣₑ (meV)", "titleFontSize": 26, "titlePadding": 4, "labelBaseline": {"condition": {"test": "datum.value == 15", "value": "top"}, "value": "middle"}, "domainColor": "#555", "domainWidth": 1, "zindex": 1}},
     "y2": {"field": "y2"},
     "fill": {"field": "v", "type": "quantitative", "scale": {"domain": [0, 1], "range": ["#0000ff", "#2fb41e"], "interpolate": "rgb"}, "legend": null},
     "stroke": {"field": "v", "type": "quantitative", "scale": {"domain": [0, 1], "range": ["#0000ff", "#2fb41e"], "interpolate": "rgb"}, "legend": null}
    }},
   {"mark": {"type": "point", "opacity": 0, "size": 1, "strokeWidth": 0},
    "encoding": {
     "x": {"field": "x", "type": "quantitative", "scale": {"domain": [0, 1], "nice": false, "zero": false}, "axis": {"orient": "top", "values": [0.5], "labels": false, "title": null, "tickSize": -10, "domainColor": "#555", "domainWidth": 1, "zindex": 1}},
     "y": {"field": "y", "type": "quantitative", "scale": {"domain": [0, 15], "nice": false, "zero": false}, "axis": {"orient": "right", "values": [5, 10], "labels": false, "title": null, "tickSize": -10, "domainColor": "#555", "domainWidth": 1, "zindex": 1}}
    }}
  ],
  "resolve": {"axis": {"x": "independent", "y": "independent"}}
 },
 {"width": 207, "height": 206, "data": {"name": "hc"},
  "title": {"text": "c", "offset": -31, "dx": 5, "color": "white"},
  "layer": [
   {"mark": {"type": "rect", "strokeWidth": 0.8},
    "encoding": {
     "x": {"field": "x", "type": "quantitative", "scale": {"domain": [0, 1], "nice": false, "zero": false}, "axis": {"orient": "bottom", "values": [0.5], "labels": false, "title": null, "tickSize": -10, "domainColor": "#555", "domainWidth": 1, "zindex": 1}},
     "x2": {"field": "x2"},
     "y": {"field": "y", "type": "quantitative", "scale": {"domain": [0, 15], "nice": false, "zero": false}, "axis": {"orient": "left", "values": [5, 10], "labels": false, "title": null, "tickSize": -10, "domainColor": "#555", "domainWidth": 1, "zindex": 1}},
     "y2": {"field": "y2"},
     "fill": {"field": "v", "type": "quantitative", "scale": {"domain": [0, 1], "range": ["#0000ff", "#ff0000"], "interpolate": "rgb"}, "legend": null},
     "stroke": {"field": "v", "type": "quantitative", "scale": {"domain": [0, 1], "range": ["#0000ff", "#ff0000"], "interpolate": "rgb"}, "legend": null}
    }},
   {"mark": {"type": "point", "opacity": 0, "size": 1, "strokeWidth": 0},
    "encoding": {
     "x": {"field": "x", "type": "quantitative", "scale": {"domain": [0, 1], "nice": false, "zero": false}, "axis": {"orient": "top", "values": [0.5], "labels": false, "title": null, "tickSize": -10, "domainColor": "#555", "domainWidth": 1, "zindex": 1}},
     "y": {"field": "y", "type": "quantitative", "scale": {"domain": [0, 15], "nice": false, "zero": false}, "axis": {"orient": "right", "values": [5, 10], "labels": false, "title": null, "tickSize": -10, "domainColor": "#555", "domainWidth": 1, "zindex": 1}}
    }}
  ],
  "resolve": {"axis": {"x": "independent", "y": "independent"}}
 }
]},
{"spacing": 20, "resolve": {"scale": {"fill": "independent", "stroke": "independent", "color": "independent", "strokeDash": "independent"}}, "hconcat": [
 {"width": 204, "height": 204, "data": {"name": "pd"},
  "title": {"text": "d", "offset": -35, "dx": 4, "color": "black"},
  "layer": [
   {"mark": {"type": "line", "strokeWidth": 4, "interpolate": "monotone", "clip": true},
    "encoding": {
     "x": {"field": "t", "type": "quantitative", "scale": {"domain": [0, 1], "nice": false, "zero": false}, "axis": {"orient": "bottom", "values": [0, 0.5, 1], "labelExpr": "datum.value == 0 ? '0' : datum.value == 1 ? 'π' : 'π/2'", "title": "θ", "titleFontSize": 30, "titlePadding": 2, "tickSize": -8, "labelPadding": 20}},
     "y": {"field": "v", "type": "quantitative", "scale": {"domain": [0, 1], "nice": false, "zero": false}, "axis": {"orient": "left", "values": [0, 0.5, 1], "labelExpr": "datum.value == 1 ? '1' : datum.value == 0 ? '0' : ''", "title": "u², v²", "titlePadding": 16, "tickSize": -8, "labelPadding": 16, "grid": true, "gridColor": "#bbbbbb", "gridDash": [2, 2], "gridWidth": 0.8, "labelBaseline": {"condition": {"test": "datum.value == 1", "value": "top"}, "value": "middle"}}},
     "color": {"field": "s", "type": "nominal", "scale": {"domain": ["u", "v"], "range": ["#3ec70f", "#ff0000"]}, "legend": null},
     "strokeDash": {"field": "d", "type": "nominal", "scale": {"domain": ["solid", "dashed"], "range": [[1, 0], [15, 7]]}, "legend": null}
    }},
   {"mark": {"type": "point", "opacity": 0, "size": 1, "strokeWidth": 0},
    "encoding": {
     "x": {"field": "t", "type": "quantitative", "scale": {"domain": [0, 1], "nice": false, "zero": false}, "axis": {"orient": "top", "values": [0.5], "labels": false, "title": null, "tickSize": -8}},
     "y": {"field": "v", "type": "quantitative", "scale": {"domain": [0, 1], "nice": false, "zero": false}, "axis": {"orient": "right", "values": [0.5], "labels": false, "title": null, "tickSize": -8}}
    }}
  ],
  "resolve": {"axis": {"x": "independent", "y": "independent"}}
 },
 {"width": 205, "height": 204, "data": {"name": "pe"},
  "title": {"text": "e", "offset": -35, "dx": 2, "color": "black"},
  "layer": [
   {"mark": {"type": "line", "strokeWidth": 4, "interpolate": "monotone", "clip": true},
    "encoding": {
     "x": {"field": "t", "type": "quantitative", "scale": {"domain": [0, 1], "nice": false, "zero": false}, "axis": {"orient": "bottom", "values": [0, 0.5, 1], "labelExpr": "datum.value == 0 ? '0' : datum.value == 1 ? 'π' : 'π/2'", "title": "θ", "titleFontSize": 30, "titlePadding": 2, "tickSize": -8, "labelPadding": 20}},
     "y": {"field": "v", "type": "quantitative", "scale": {"domain": [0, 1], "nice": false, "zero": false}, "axis": {"orient": "left", "values": [0, 0.5, 1], "labelExpr": "datum.value == 1 ? '1' : datum.value == 0 ? '0' : ''", "title": "u², v²", "titlePadding": 26, "tickSize": -8, "labelPadding": 15, "grid": true, "gridColor": "#bbbbbb", "gridDash": [2, 2], "gridWidth": 0.8, "labelBaseline": {"condition": {"test": "datum.value == 1", "value": "top"}, "value": "middle"}}},
     "color": {"field": "s", "type": "nominal", "scale": {"domain": ["u", "v"], "range": ["#3ec70f", "#0000ff"]}, "legend": null},
     "strokeDash": {"field": "d", "type": "nominal", "scale": {"domain": ["solid", "dashed"], "range": [[1, 0], [15, 7]]}, "legend": null},
     "detail": {"field": "g", "type": "nominal"}
    }},
   {"mark": {"type": "point", "opacity": 0, "size": 1, "strokeWidth": 0},
    "encoding": {
     "x": {"field": "t", "type": "quantitative", "scale": {"domain": [0, 1], "nice": false, "zero": false}, "axis": {"orient": "top", "values": [0.5], "labels": false, "title": null, "tickSize": -8}},
     "y": {"field": "v", "type": "quantitative", "scale": {"domain": [0, 1], "nice": false, "zero": false}, "axis": {"orient": "right", "values": [0.5], "labels": false, "title": null, "tickSize": -8}}
    }}
  ],
  "resolve": {"axis": {"x": "independent", "y": "independent"}}
 },
 {"width": 205, "height": 204, "data": {"name": "pf"},
  "title": {"text": "f", "offset": -35, "dx": 6, "color": "black"},
  "layer": [
   {"mark": {"type": "line", "strokeWidth": 4, "interpolate": "monotone", "clip": true},
    "encoding": {
     "x": {"field": "t", "type": "quantitative", "scale": {"domain": [0, 1], "nice": false, "zero": false}, "axis": {"orient": "bottom", "values": [0, 0.5, 1], "labelExpr": "datum.value == 0 ? '0' : datum.value == 1 ? 'π' : 'π/2'", "title": "θ", "titleFontSize": 30, "titlePadding": 2, "tickSize": -8, "labelPadding": 20}},
     "y": {"field": "v", "type": "quantitative", "scale": {"domain": [0, 1], "nice": false, "zero": false}, "axis": {"orient": "left", "values": [0, 0.5, 1], "labels": false, "title": null, "tickSize": -8, "grid": true, "gridColor": "#bbbbbb", "gridDash": [2, 2], "gridWidth": 0.8}},
     "color": {"field": "s", "type": "nominal", "scale": {"domain": ["u", "v"], "range": ["#ff0000", "#0000ff"]}, "legend": null},
     "strokeDash": {"field": "d", "type": "nominal", "scale": {"domain": ["solid", "dashed"], "range": [[1, 0], [15, 7]]}, "legend": null}
    }},
   {"mark": {"type": "point", "opacity": 0, "size": 1, "strokeWidth": 0},
    "encoding": {
     "x": {"field": "t", "type": "quantitative", "scale": {"domain": [0, 1], "nice": false, "zero": false}, "axis": {"orient": "top", "values": [0.5], "labels": false, "title": null, "tickSize": -8}},
     "y": {"field": "v", "type": "quantitative", "scale": {"domain": [0, 1], "nice": false, "zero": false}, "axis": {"orient": "right", "values": [0.5], "labels": false, "title": null, "tickSize": -8}}
    }}
  ],
  "resolve": {"axis": {"x": "independent", "y": "independent"}}
 }
]}
]},
{"spacing": 19, "resolve": {"scale": {"fill": "independent", "stroke": "independent", "color": "independent", "strokeDash": "independent"}}, "hconcat": [
 {"width": 207, "height": 55, "data": {"name": "gd"}, "view": {"stroke": "black", "strokeWidth": 1.5},
  "layer": [
   {"mark": {"type": "text", "align": "left", "baseline": "alphabetic", "font": "Liberation Serif", "fontSize": 40, "dx": 7, "dy": 13},
    "encoding": {"x": {"field": "k", "type": "nominal", "bandPosition": 0, "scale": {"type": "band", "paddingInner": 0, "paddingOuter": 0}, "axis": null}, "text": {"field": "k"}}},
   {"mark": {"type": "text", "align": "left", "baseline": "alphabetic", "font": "Liberation Sans", "fontSize": 22, "dx": 27, "dy": -2},
    "encoding": {"x": {"field": "k", "type": "nominal", "bandPosition": 0, "scale": {"type": "band", "paddingInner": 0, "paddingOuter": 0}, "axis": null}, "text": {"value": "2"}}},
   {"mark": {"type": "text", "align": "left", "baseline": "alphabetic", "font": "Liberation Serif", "fontSize": 22, "dx": 26, "dy": 16},
    "encoding": {"x": {"field": "k", "type": "nominal", "bandPosition": 0, "scale": {"type": "band", "paddingInner": 0, "paddingOuter": 0}, "axis": null}, "text": {"field": "sub"}}},
   {"mark": {"type": "point", "shape": "M-1,0L1,0", "size": 2809, "strokeWidth": 4, "filled": false, "opacity": 1},
    "encoding": {"x": {"field": "k", "type": "nominal", "bandPosition": 0.665, "scale": {"type": "band", "paddingInner": 0, "paddingOuter": 0}, "axis": null}, "stroke": {"field": "k", "type": "nominal", "scale": {"domain": ["u", "v"], "range": ["#3ec70f", "#ff0000"]}, "legend": null}}}
  ]
 },
 {"width": 57, "height": 55, "data": {"values": [{"z": 0}]}, "mark": {"type": "point", "opacity": 0, "size": 1, "strokeWidth": 0}},
 {"width": 207, "height": 55, "data": {"name": "ge"}, "view": {"stroke": "black", "strokeWidth": 1.5},
  "layer": [
   {"mark": {"type": "text", "align": "left", "baseline": "alphabetic", "font": "Liberation Serif", "fontSize": 40, "dx": 7, "dy": 13},
    "encoding": {"x": {"field": "k", "type": "nominal", "bandPosition": 0, "scale": {"type": "band", "paddingInner": 0, "paddingOuter": 0}, "axis": null}, "text": {"field": "k"}}},
   {"mark": {"type": "text", "align": "left", "baseline": "alphabetic", "font": "Liberation Sans", "fontSize": 22, "dx": 27, "dy": -2},
    "encoding": {"x": {"field": "k", "type": "nominal", "bandPosition": 0, "scale": {"type": "band", "paddingInner": 0, "paddingOuter": 0}, "axis": null}, "text": {"value": "2"}}},
   {"mark": {"type": "text", "align": "left", "baseline": "alphabetic", "font": "Liberation Serif", "fontSize": 22, "dx": 26, "dy": 16},
    "encoding": {"x": {"field": "k", "type": "nominal", "bandPosition": 0, "scale": {"type": "band", "paddingInner": 0, "paddingOuter": 0}, "axis": null}, "text": {"field": "sub"}}},
   {"mark": {"type": "point", "shape": "M-1,0L1,0", "size": 2809, "strokeWidth": 4, "filled": false, "opacity": 1},
    "encoding": {"x": {"field": "k", "type": "nominal", "bandPosition": 0.665, "scale": {"type": "band", "paddingInner": 0, "paddingOuter": 0}, "axis": null}, "stroke": {"field": "k", "type": "nominal", "scale": {"domain": ["u", "v"], "range": ["#3ec70f", "#0000ff"]}, "legend": null}}}
  ]
 },
 {"width": 207, "height": 55, "data": {"name": "gf"}, "view": {"stroke": "black", "strokeWidth": 1.5},
  "layer": [
   {"mark": {"type": "text", "align": "left", "baseline": "alphabetic", "font": "Liberation Serif", "fontSize": 40, "dx": 7, "dy": 13},
    "encoding": {"x": {"field": "k", "type": "nominal", "bandPosition": 0, "scale": {"type": "band", "paddingInner": 0, "paddingOuter": 0}, "axis": null}, "text": {"field": "k"}}},
   {"mark": {"type": "text", "align": "left", "baseline": "alphabetic", "font": "Liberation Sans", "fontSize": 22, "dx": 27, "dy": -2},
    "encoding": {"x": {"field": "k", "type": "nominal", "bandPosition": 0, "scale": {"type": "band", "paddingInner": 0, "paddingOuter": 0}, "axis": null}, "text": {"value": "2"}}},
   {"mark": {"type": "text", "align": "left", "baseline": "alphabetic", "font": "Liberation Serif", "fontSize": 22, "dx": 26, "dy": 16},
    "encoding": {"x": {"field": "k", "type": "nominal", "bandPosition": 0, "scale": {"type": "band", "paddingInner": 0, "paddingOuter": 0}, "axis": null}, "text": {"field": "sub"}}},
   {"mark": {"type": "point", "shape": "M-1,0L1,0", "size": 2809, "strokeWidth": 4, "filled": false, "opacity": 1},
    "encoding": {"x": {"field": "k", "type": "nominal", "bandPosition": 0.665, "scale": {"type": "band", "paddingInner": 0, "paddingOuter": 0}, "axis": null}, "stroke": {"field": "k", "type": "nominal", "scale": {"domain": ["u", "v"], "range": ["#ff0000", "#0000ff"]}, "legend": null}}}
  ]
 }
]}
]
}
